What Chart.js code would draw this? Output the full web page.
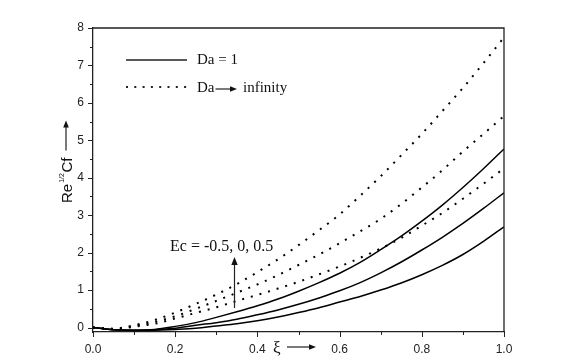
<!DOCTYPE html>
<html>
<head>
<meta charset="utf-8">
<script src="https://cdn.jsdelivr.net/npm/chart.js@4/dist/chart.umd.min.js"></script>
<style>
  html, body { margin: 0; padding: 0; background: #fff; }
</style>
</head>
<body>
<canvas id="cfChart" width="581" height="361"></canvas>
<script>
// xi positions
const xi = [0, 0.05, 0.1, 0.15, 0.2, 0.25, 0.3, 0.35, 0.4, 0.45, 0.5,
            0.55, 0.6, 0.65, 0.7, 0.75, 0.8, 0.85, 0.9, 0.95, 1.0];

// Da = 1 (solid), Ec = -0.5, 0, 0.5
const da1EcNeg = [0, -0.06, -0.08, -0.07, -0.05, -0.02, 0.04, 0.1, 0.18, 0.28, 0.4,
                  0.53, 0.68, 0.83, 1.0, 1.19, 1.41, 1.66, 1.95, 2.3, 2.69];
const da1EcZero = [0, -0.06, -0.07, -0.06, -0.02, 0.06, 0.13, 0.22, 0.34, 0.47, 0.62,
                   0.79, 0.98, 1.2, 1.46, 1.75, 2.07, 2.41, 2.78, 3.18, 3.6];
const da1EcPos = [0, -0.06, -0.07, -0.05, 0.03, 0.13, 0.27, 0.42, 0.58, 0.76, 0.97,
                  1.2, 1.45, 1.74, 2.08, 2.44, 2.84, 3.27, 3.74, 4.24, 4.77];

// Da -> infinity (dotted), Ec = -0.5, 0, 0.5
const daInfEcNeg = [0, -0.05, 0.02, 0.1, 0.24, 0.39, 0.54, 0.71, 0.87, 1.04, 1.22,
                    1.42, 1.63, 1.86, 2.11, 2.39, 2.72, 3.06, 3.44, 3.84, 4.25];
const daInfEcZero = [0, -0.04, 0.04, 0.15, 0.3, 0.5, 0.71, 0.93, 1.15, 1.4, 1.67,
                     1.95, 2.25, 2.57, 2.9, 3.3, 3.74, 4.2, 4.7, 5.17, 5.65];
const daInfEcPos = [0, -0.03, 0.06, 0.2, 0.4, 0.63, 0.88, 1.16, 1.48, 1.82, 2.2,
                    2.6, 3.02, 3.52, 4.04, 4.6, 5.17, 5.78, 6.4, 7.06, 7.75];

const yTicks = [0, 1, 2, 3, 4, 5, 6, 7, 8];
const xTicks = [0.0, 0.2, 0.4, 0.6, 0.8, 1.0];

const toPoints = (vals) => vals.map((v, i) => ({ x: xi[i], y: v }));

const solid = (vals) => ({
  data: toPoints(vals),
  borderColor: '#000',
  borderWidth: 1.5,
  pointRadius: 0,
  cubicInterpolationMode: 'monotone',
  fill: false
});

const dotted = (vals) => ({
  data: toPoints(vals),
  borderColor: '#000',
  borderWidth: 2,
  borderDash: [2, 7],
  pointRadius: 0,
  cubicInterpolationMode: 'monotone',
  fill: false
});

const arrow = (ctx, x1, y1, x2, y2, head) => {
  const a = Math.atan2(y2 - y1, x2 - x1);
  ctx.beginPath();
  ctx.moveTo(x1, y1);
  ctx.lineTo(x2 - Math.cos(a) * head * 0.8, y2 - Math.sin(a) * head * 0.8);
  ctx.stroke();
  ctx.beginPath();
  ctx.moveTo(x2, y2);
  ctx.lineTo(x2 - head * Math.cos(a) + head * 0.4 * Math.sin(a), y2 - head * Math.sin(a) - head * 0.4 * Math.cos(a));
  ctx.lineTo(x2 - head * Math.cos(a) - head * 0.4 * Math.sin(a), y2 - head * Math.sin(a) + head * 0.4 * Math.cos(a));
  ctx.closePath();
  ctx.fill();
};

const decorations = {
  id: 'decorations',
  afterDraw(chart) {
    const { ctx, chartArea: area, scales } = chart;
    const xs = scales.x, ys = scales.y;
    ctx.save();
    ctx.strokeStyle = '#222';
    ctx.fillStyle = '#111';

    // top and right frame
    ctx.lineWidth = 1.3;
    ctx.beginPath();
    ctx.moveTo(area.left, area.top);
    ctx.lineTo(area.right, area.top);
    ctx.lineTo(area.right, area.bottom);
    ctx.stroke();

    // ticks, major and minor
    ctx.lineWidth = 1;
    for (let v = 0; v <= 8.001; v += 0.5) {
      const y = Math.round(ys.getPixelForValue(v)) + 0.5;
      const len = Math.abs(v - Math.round(v)) < 0.01 ? 5 : 3;
      ctx.beginPath();
      ctx.moveTo(area.left - len, y);
      ctx.lineTo(area.left, y);
      ctx.stroke();
    }
    for (let i = 0; i <= 10; i++) {
      const x = Math.round(xs.getPixelForValue(i / 10)) + 0.5;
      const len = i % 2 === 0 ? 5 : 3;
      ctx.beginPath();
      ctx.moveTo(x, area.bottom);
      ctx.lineTo(x, area.bottom + len);
      ctx.stroke();
    }

    // y axis title: Re^{1/2}Cf with arrow
    ctx.save();
    ctx.translate(72, 203);
    ctx.rotate(-Math.PI / 2);
    ctx.textBaseline = 'alphabetic';
    ctx.textAlign = 'left';
    ctx.font = '15px "Liberation Sans", Arial, sans-serif';
    ctx.fillText('Re', 0, 0);
    let off = ctx.measureText('Re').width + 1;
    ctx.font = '7px "Liberation Sans", Arial, sans-serif';
    ctx.fillText('1/2', off, -8);
    off += ctx.measureText('1/2').width + 0.5;
    ctx.font = '15px "Liberation Sans", Arial, sans-serif';
    ctx.fillText('Cf', off, 0);
    off += ctx.measureText('Cf').width;
    ctx.lineWidth = 1.2;
    arrow(ctx, off + 7, -6, off + 37, -6, 7);
    ctx.restore();

    // x axis title: xi with arrow
    ctx.font = '17px "Liberation Serif", "Times New Roman", serif';
    ctx.textAlign = 'left';
    ctx.textBaseline = 'alphabetic';
    ctx.fillText('\u03be', 273, 353);
    ctx.lineWidth = 1.2;
    arrow(ctx, 287, 347, 316, 347, 7);

    // legend
    ctx.font = '15px "Liberation Serif", "Times New Roman", serif';
    ctx.lineWidth = 1.5;
    ctx.beginPath();
    ctx.moveTo(126, 60);
    ctx.lineTo(187, 60);
    ctx.stroke();
    ctx.fillText('Da = 1', 197, 64);
    ctx.lineWidth = 2;
    ctx.setLineDash([2, 6.3]);
    ctx.beginPath();
    ctx.moveTo(126, 87);
    ctx.lineTo(188, 87);
    ctx.stroke();
    ctx.setLineDash([]);
    ctx.fillText('Da', 197, 92);
    const daW = ctx.measureText('Da').width;
    ctx.lineWidth = 1.2;
    arrow(ctx, 197 + daW + 1, 89, 237, 89, 7);
    ctx.fillText('infinity', 243, 92);

    // Ec annotation with arrow
    ctx.font = '16px "Liberation Serif", "Times New Roman", serif';
    ctx.fillText('Ec = -0.5, 0, 0.5', 170, 251);
    ctx.lineWidth = 1.2;
    arrow(ctx, 234.5, 308, 234.5, 257, 8);

    ctx.restore();
  }
};

new Chart(document.getElementById('cfChart'), {
  type: 'line',
  data: {
    datasets: [
      solid(da1EcNeg), solid(da1EcZero), solid(da1EcPos),
      dotted(daInfEcNeg), dotted(daInfEcZero), dotted(daInfEcPos)
    ]
  },
  options: {
    responsive: false,
    animation: false,
    layout: { padding: { left: 0, top: 28, right: 77, bottom: 0 } },
    plugins: {
      legend: { display: false },
      tooltip: { enabled: false }
    },
    scales: {
      x: {
        type: 'linear',
        min: 0,
        max: 1,
        afterFit: (s) => { s.height = 29; },
        afterBuildTicks: (s) => { s.ticks = xTicks.map(v => ({ value: v })); },
        grid: { display: true, drawOnChartArea: false, drawTicks: false },
        border: { display: true, color: '#222', width: 1.3 },
        ticks: {
          padding: 10,
          color: '#222',
          font: { family: '"Liberation Sans", Arial, sans-serif', size: 12 },
          callback: (v) => Number(v).toFixed(1)
        }
      },
      y: {
        min: -0.12,
        max: 8,
        afterFit: (s) => { s.width = 93; },
        afterBuildTicks: (s) => { s.ticks = yTicks.map(v => ({ value: v })); },
        grid: { display: true, drawOnChartArea: false, drawTicks: false },
        border: { display: true, color: '#222', width: 1.3 },
        ticks: {
          padding: 9,
          color: '#222',
          font: { family: '"Liberation Sans", Arial, sans-serif', size: 12 },
          callback: (v) => String(v)
        }
      }
    }
  },
  plugins: [decorations]
});
</script>
</body>
</html>
